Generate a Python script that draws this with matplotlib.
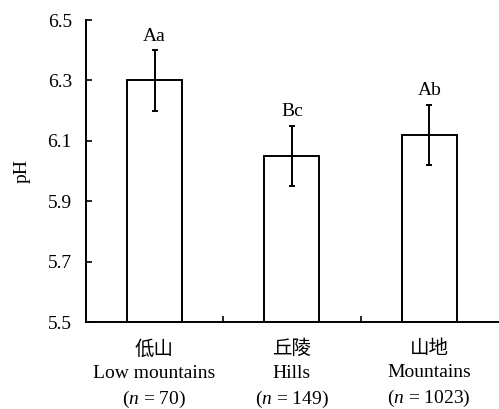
import matplotlib
matplotlib.use("Agg")
import matplotlib.pyplot as plt
import numpy as np

# datos
categorias_cn = ["低山", "丘陵", "山地"]
categorias_en = ["Low mountains", "Hills", "Mountains"]
n_muestras = [70, 149, 1023]
ph_medio = [6.30, 6.05, 6.12]
ph_error = [0.10, 0.10, 0.10]
letras = ["Aa", "Bc", "Ab"]
yticks = [5.5, 5.7, 5.9, 6.1, 6.3, 6.5]

plt.rcParams["font.family"] = ["Liberation Serif", "Noto Sans CJK SC"]
plt.rcParams["mathtext.fontset"] = "custom"
plt.rcParams["mathtext.rm"] = "Liberation Serif"
plt.rcParams["mathtext.it"] = "Liberation Serif:italic"

fig = plt.figure(figsize=(4.99, 4.09), dpi=100)
ax = fig.add_axes([0.172, 0.2127, 0.826, 0.7384])

x = np.arange(len(ph_medio))
ax.bar(x, np.array(ph_medio) - 5.5, bottom=5.5, width=0.4, color="white",
       edgecolor="black", linewidth=1.4, zorder=2)
ax.errorbar(x, ph_medio, yerr=ph_error, fmt="none", ecolor="black",
            elinewidth=1.4, capsize=2.5, capthick=1.4, zorder=3)

for xi, m, e, l in zip(x, ph_medio, ph_error, letras):
    ax.annotate(l, (xi, m + e), xytext=(0, 10), textcoords="offset points",
                ha="center", va="center", fontsize=14)

etiquetas = [f"{c}\n{e}\n($n$ = {n})" for c, e, n in zip(categorias_cn, categorias_en, n_muestras)]
ax.set_xticks(x)
ax.set_xticklabels(etiquetas, fontsize=14, linespacing=1.47)
ax.set_xticks([0.5, 1.5], minor=True)
ax.tick_params(axis="x", which="major", length=0, pad=13)
ax.tick_params(axis="x", which="minor", direction="in", length=4, width=1.2)
ax.set_xlim(-0.5, 2.5)

ax.set_ylim(5.5, 6.5)
ax.set_yticks(yticks)
ax.set_yticklabels([f"{v:.1f}" for v in yticks], fontsize=14)
ax.tick_params(axis="y", direction="in", length=4, width=1.2, pad=10)
ax.set_ylabel("pH", fontsize=14, labelpad=12)

for s in ["top", "right"]:
    ax.spines[s].set_visible(False)
for s in ["left", "bottom"]:
    ax.spines[s].set_linewidth(1.4)

fig.savefig("out.png", dpi=100)
